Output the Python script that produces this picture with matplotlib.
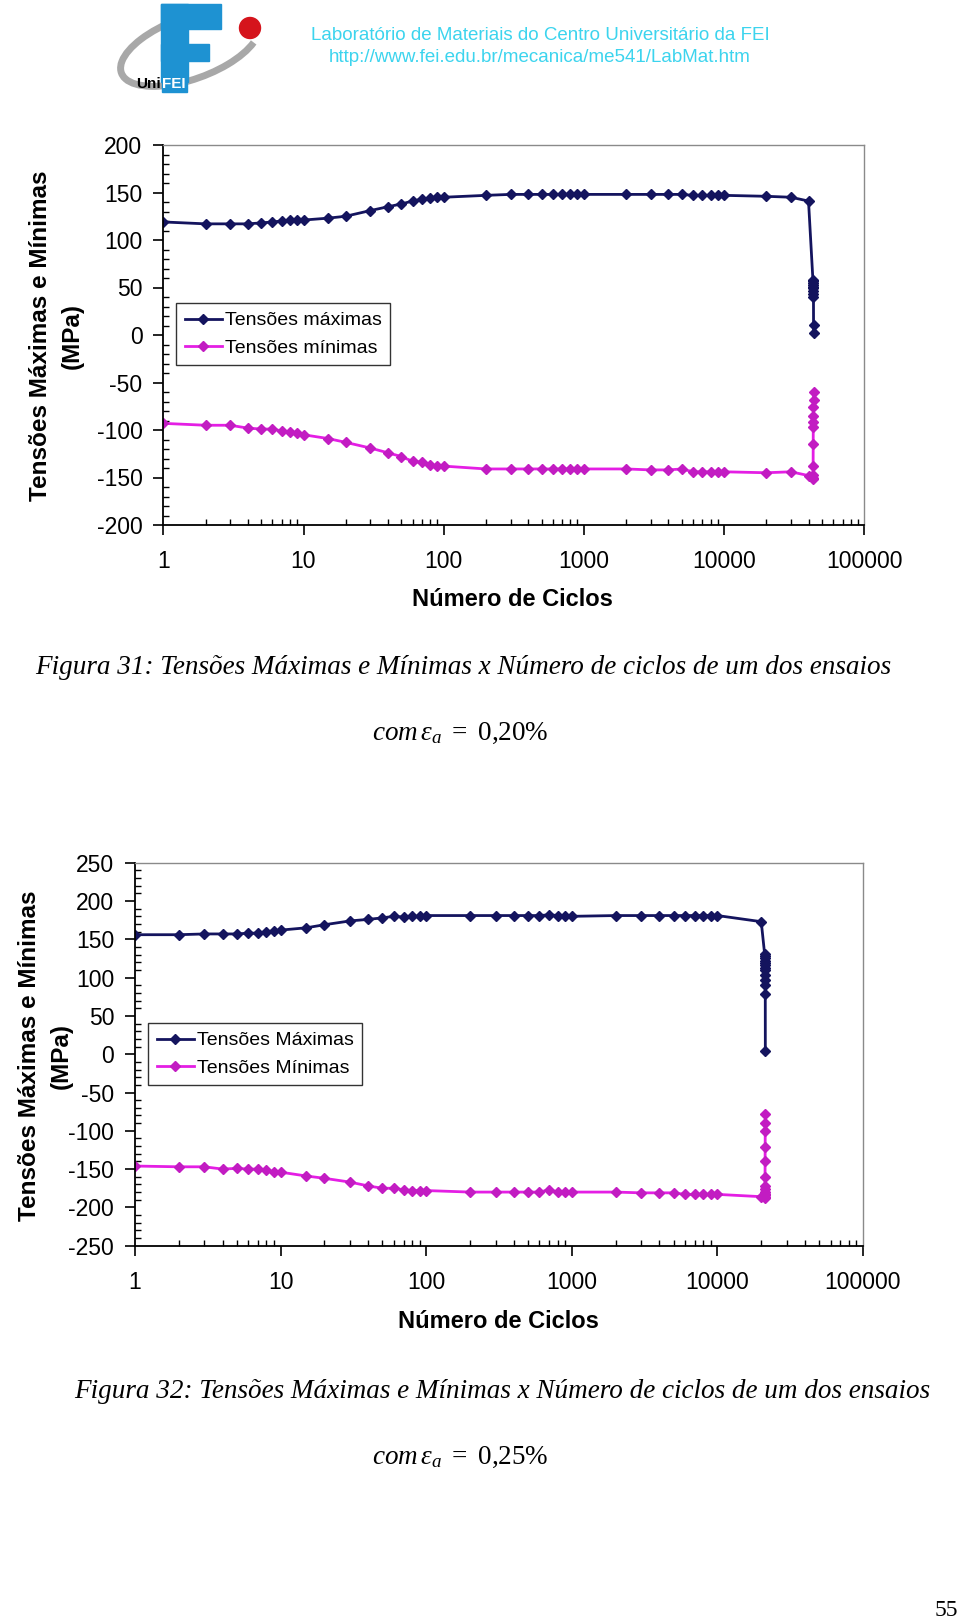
import numpy as np
import matplotlib.pyplot as plt
from matplotlib.patches import Rectangle, Circle, Arc

plt.rcParams['font.family'] = ['Liberation Sans', 'DejaVu Sans']
plt.rcParams['axes.unicode_minus'] = False
plt.rcParams['mathtext.fontset'] = 'custom'
plt.rcParams['mathtext.rm'] = 'Liberation Serif'
plt.rcParams['mathtext.it'] = 'Liberation Serif:italic'

# === DATA ===
cycles_31 = [1, 2, 3, 4, 5, 6, 7, 8, 9, 10, 15, 20, 30, 40, 50, 60, 70, 80, 90, 100,
             200, 300, 400, 500, 600, 700, 800, 900, 1000, 2000, 3000, 4000, 5000,
             6000, 7000, 8000, 9000, 10000, 20000, 30000, 40000,
             43000, 43050, 43100, 43150, 43200, 43250, 43300, 43350, 43400, 43450, 43500]
max_31 = [119, 117, 117, 117, 118, 119, 120, 121, 121, 121, 123, 125, 131, 135, 138, 141,
          143, 144, 145, 145, 147, 148, 148, 148, 148, 148, 148, 148, 148, 148, 148, 148,
          148, 147, 147, 147, 147, 147, 146, 145, 141,
          58, 57, 55, 53, 51, 49, 46, 43, 40, 11, 2]
min_31 = [-93, -95, -95, -98, -99, -99, -101, -102, -103, -105, -109, -113, -119, -124,
          -128, -133, -134, -137, -138, -138, -141, -141, -141, -141, -141, -141, -141,
          -141, -141, -141, -142, -142, -141, -144, -144, -144, -144, -144, -145, -144, -148,
          -152, -150, -147, -138, -115, -97, -92, -85, -76, -68, -60]

cycles_32 = [1, 2, 3, 4, 5, 6, 7, 8, 9, 10, 15, 20, 30, 40, 50, 60, 70, 80, 90, 100,
             200, 300, 400, 500, 600, 700, 800, 900, 1000, 2000, 3000, 4000, 5000,
             6000, 7000, 8000, 9000, 10000, 20000,
             21100, 21120, 21140, 21160, 21180, 21200, 21220, 21240, 21260, 21280,
             21300, 21320, 21340]
max_32 = [156, 156, 157, 157, 157, 158, 158, 160, 161, 162, 165, 169, 174, 176, 178, 180,
          179, 180, 180, 181, 181, 181, 181, 181, 181, 182, 181, 181, 180, 181, 181, 181,
          181, 181, 181, 181, 181, 181, 173,
          131, 128, 125, 122, 119, 116, 113, 110, 104, 97, 90, 78, 4]
min_32 = [-146, -147, -147, -150, -149, -150, -150, -151, -154, -154, -159, -162, -167,
          -172, -175, -175, -177, -178, -178, -178, -180, -180, -180, -180, -180, -177,
          -180, -180, -180, -180, -181, -181, -181, -183, -183, -183, -183, -183, -186,
          -188, -186, -184, -182, -180, -176, -172, -160, -140, -121, -100, -90, -78]

x_tick_labels = ['1', '10', '100', '1000', '10000', '100000']
legend_31 = ['Tensões máximas', 'Tensões mínimas']
legend_32 = ['Tensões Máximas', 'Tensões Mínimas']

NAVY = '#14145e'
MAGENTA = '#e41ee4'
MAGENTA_MK = '#c21cc2'
HEAD_CYAN = '#3cd4ee'

W, H = 960, 1623
fig = plt.figure(figsize=(W / 100, H / 100), dpi=100)


def px_axes(left, top, right, bottom, **kw):
    return fig.add_axes([left / W, 1 - bottom / H, (right - left) / W, (bottom - top) / H], **kw)


def ftext(x, y, s, **kw):
    return fig.text(x / W, 1 - y / H, s, **kw)


# === CHART ===
def draw_chart(ax, cycles, smax, smin, ylim, labels, leg_xy):
    ax.plot(cycles, smax, color=NAVY, lw=2.0, marker='D', ms=5,
            mfc=NAVY, mec=NAVY, label=labels[0])
    ax.plot(cycles, smin, color=MAGENTA, lw=2.0, marker='D', ms=5,
            mfc=MAGENTA_MK, mec=MAGENTA_MK, label=labels[1])
    ax.set_xscale('log')
    ax.set_xlim(1, 1e5)
    ax.set_ylim(*ylim)
    ax.set_yticks(np.arange(ylim[0], ylim[1] + 1, 50))
    ax.set_yticks(np.arange(ylim[0], ylim[1] + 1, 10), minor=True)
    ax.set_xticks([1, 10, 100, 1000, 10000, 100000])
    ax.set_xticklabels(x_tick_labels)
    ax.set_xticks([k * 10 ** d for d in range(5) for k in range(2, 10)], minor=True)
    ax.set_xticklabels([], minor=True)
    ax.tick_params(which='major', direction='out', length=7, width=1.2,
                   labelsize=16.5, colors='black')
    ax.tick_params(axis='x', which='major', pad=11)
    ax.tick_params(axis='y', which='major', pad=8)
    ax.tick_params(which='minor', direction='in', length=4, width=1)
    for s in ['left', 'bottom']:
        ax.spines[s].set_color('black')
        ax.spines[s].set_linewidth(1.3)
    for s in ['top', 'right']:
        ax.spines[s].set_color('#8a8a8a')
        ax.spines[s].set_linewidth(1.0)
    leg = ax.legend(loc='upper left', bbox_to_anchor=leg_xy, bbox_transform=fig.transFigure,
                    fontsize=14, frameon=True, fancybox=False, edgecolor='black',
                    handlelength=1.9, handletextpad=0.15, borderpad=0.45,
                    labelspacing=0.5, borderaxespad=0)
    leg.get_frame().set_linewidth(1.0)


ax1 = px_axes(163.3, 145, 864.3, 525)
draw_chart(ax1, cycles_31, max_31, min_31, (-200, 200), legend_31, (176 / W, 1 - 303 / H))

ax2 = px_axes(135, 862.7, 863, 1245.7)
draw_chart(ax2, cycles_32, max_32, min_32, (-250, 250), legend_32, (148 / W, 1 - 1023 / H))

# axis titles
lab = dict(fontsize=17.5, fontweight='bold', rotation=90, ha='center', va='center')
ftext(41, 336, 'Tensões Máximas e Mínimas', **lab)
ftext(72, 336, '(MPa)', **lab)
ftext(512, 600, 'Número de Ciclos', fontsize=17, fontweight='bold', ha='center', va='center')

ftext(30, 1056, 'Tensões Máximas e Mínimas', **lab)
ftext(61, 1056, '(MPa)', **lab)
ftext(498, 1322, 'Número de Ciclos', fontsize=17, fontweight='bold', ha='center', va='center')

# === HEADER ===
ftext(540, 36, 'Laboratório de Materiais do Centro Universitário da FEI',
      fontsize=13.5, color=HEAD_CYAN, ha='center', va='center')
ftext(540, 58, 'http://www.fei.edu.br/mecanica/me541/LabMat.htm',
      fontsize=13.5, color=HEAD_CYAN, ha='center', va='center')

logo = px_axes(115, 0, 275, 100)
logo.set_xlim(115, 275)
logo.set_ylim(100, 0)
logo.axis('off')
logo.add_patch(Arc((190, 48), 146, 62, angle=-20, theta1=15, theta2=325,
                   color='#a8a8a8', lw=5))
blue = '#1e92d2'
logo.add_patch(Rectangle((161, 4), 27, 78, color=blue))
logo.add_patch(Rectangle((161, 4), 60, 25, color=blue))
logo.add_patch(Rectangle((161, 44), 48, 17, color=blue))
logo.add_patch(Circle((250, 28), 10.5, color='#d5141c'))
logo.add_patch(Rectangle((162, 76), 25, 16, color=blue))
logo.text(161, 84, 'Uni', fontsize=11, fontweight='bold', ha='right', va='center')
logo.text(174, 84, 'FEI', fontsize=11, fontweight='bold', color='white', ha='center', va='center')

# === CAPTIONS ===
cap = dict(family='Liberation Serif', style='italic', fontsize=19.5, ha='center', va='center')
ftext(463, 668, 'Figura 31: Tensões Máximas e Mínimas x Número de ciclos de um dos ensaios', **cap)
ftext(460, 733, r'$\mathit{com}\,\varepsilon_{a}\ =\ 0{,}20\%$', fontsize=19.5, ha='center', va='center')
ftext(502, 1391, 'Figura 32: Tensões Máximas e Mínimas x Número de ciclos de um dos ensaios', **cap)
ftext(460, 1457, r'$\mathit{com}\,\varepsilon_{a}\ =\ 0{,}25\%$', fontsize=19.5, ha='center', va='center')

ftext(958, 1611, '55', family='Liberation Serif', fontsize=17, ha='right', va='center')

fig.savefig('out.png', dpi=100)
